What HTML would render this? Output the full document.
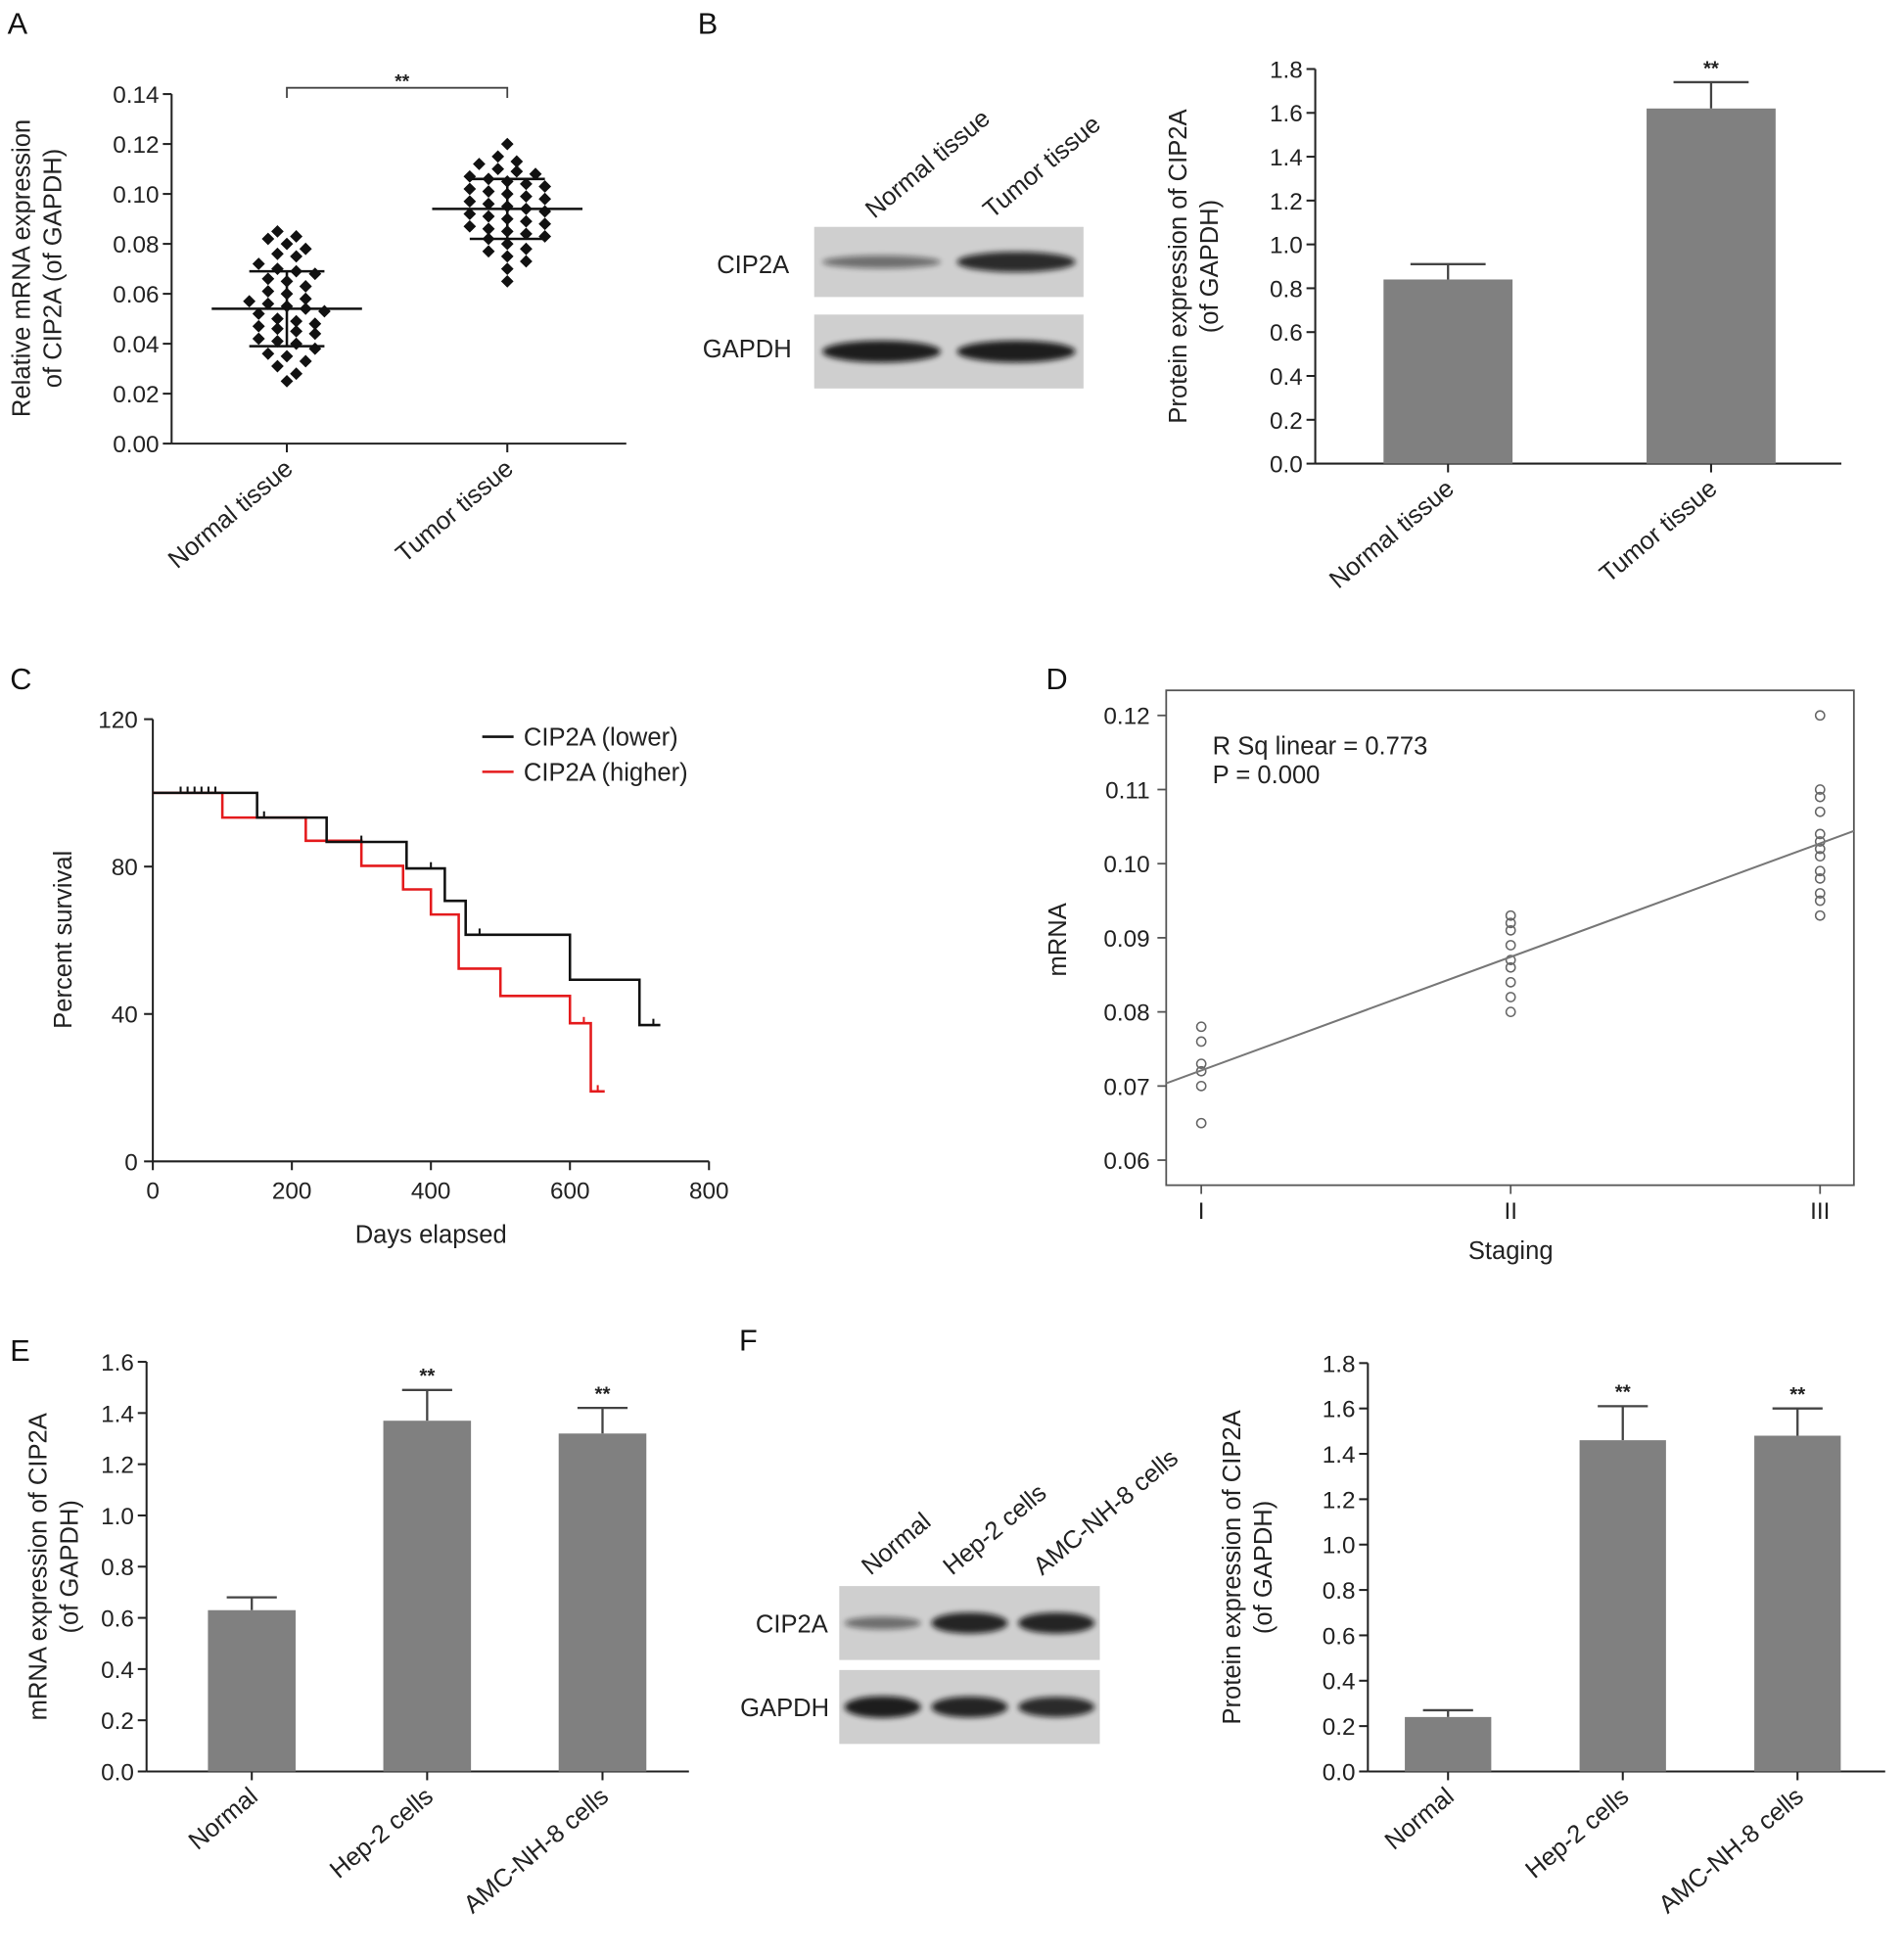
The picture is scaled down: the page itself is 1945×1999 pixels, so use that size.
<!DOCTYPE html>
<html><head><meta charset="utf-8"><style>
html,body{margin:0;padding:0;background:#fff;}
svg{display:block;font-family:"Liberation Sans",Arial,sans-serif;}
</style></head><body>
<svg id="fig" width="1945" height="1999" viewBox="0 0 1520 1562" xmlns="http://www.w3.org/2000/svg">
<defs><filter id="blur" x="-20%" y="-50%" width="140%" height="200%"><feGaussianBlur stdDeviation="2.2"/></filter></defs>
<g font-size="24" fill="#111">
<text x="6" y="27">A</text>
<text x="557" y="27">B</text>
<text x="8" y="550">C</text>
<text x="835" y="550">D</text>
<text x="8" y="1086">E</text>
<text x="590" y="1078">F</text>
</g>
</svg>
<script>
// ---- Data ----
const aCategories = ["Normal tissue","Tumor tissue"];
const aNormal = [0.085,0.083,0.082,0.080,0.078,0.076,0.075,0.072,0.070,0.069,0.068,0.066,0.065,0.063,0.061,0.060,0.058,0.057,0.056,0.055,0.054,0.053,0.052,0.050,0.049,0.048,0.047,0.046,0.045,0.044,0.042,0.041,0.040,0.038,0.036,0.035,0.033,0.031,0.028,0.025];
const aTumor = [0.120,0.115,0.113,0.112,0.110,0.109,0.108,0.107,0.106,0.105,0.104,0.103,0.102,0.101,0.100,0.099,0.098,0.097,0.096,0.095,0.094,0.093,0.092,0.091,0.090,0.089,0.088,0.087,0.086,0.085,0.084,0.083,0.082,0.080,0.078,0.077,0.075,0.073,0.070,0.065];
const aMeans = [0.054,0.094];
const aSD = [0.015,0.012];
const aTicks = [0,0.02,0.04,0.06,0.08,0.10,0.12,0.14];

const bCategories = ["Normal tissue","Tumor tissue"];
const bValues = [0.84,1.62];
const bErrors = [0.07,0.12];
const bTicks = [0,0.2,0.4,0.6,0.8,1.0,1.2,1.4,1.6,1.8];
const bSig = ["","**"];

const cLowerTimes = [0,150,250,365,420,450,600,700,730];
const cLowerSurv = [100,93.3,86.7,79.5,70.7,61.5,49.3,37,37];
const cLowerCensor = [40,50,60,70,80,90,160,300,400,470,720];
const cHigherTimes = [0,100,220,300,360,400,440,500,600,630,650];
const cHigherSurv = [100,93.3,87,80.2,73.8,67,52.3,44.9,37.5,19,19];
const cHigherCensor = [620,640];
const cXTicks = [0,200,400,600,800];
const cYTicks = [0,40,80,120];

const dStages = ["I","II","III"];
const dStage1 = [0.078,0.076,0.073,0.072,0.070,0.065];
const dStage2 = [0.093,0.092,0.091,0.089,0.087,0.086,0.084,0.082,0.080];
const dStage3 = [0.120,0.110,0.109,0.107,0.104,0.103,0.102,0.101,0.099,0.098,0.096,0.095,0.093];
const dTicks = [0.06,0.07,0.08,0.09,0.10,0.11,0.12];

const eCategories = ["Normal","Hep-2 cells","AMC-NH-8 cells"];
const eValues = [0.63,1.37,1.32];
const eErrors = [0.05,0.12,0.10];
const eTicks = [0,0.2,0.4,0.6,0.8,1.0,1.2,1.4,1.6];
const eSig = ["","**","**"];

const fCategories = ["Normal","Hep-2 cells","AMC-NH-8 cells"];
const fValues = [0.24,1.46,1.48];
const fErrors = [0.03,0.15,0.12];
const fTicks = [0,0.2,0.4,0.6,0.8,1.0,1.2,1.4,1.6,1.8];
const fSig = ["","**","**"];

const svg = document.getElementById('fig');
const NS = "http://www.w3.org/2000/svg";
function mk(tag, attrs, parent){
  const el = document.createElementNS(NS, tag);
  for (const k in attrs) el.setAttribute(k, attrs[k]);
  (parent||svg).appendChild(el);
  return el;
}
function txt(s, attrs, parent){ const t = mk('text', attrs, parent); t.textContent = s; return t; }
function lin(d0,d1,r0,r1){ return v => r0 + (v-d0)/(d1-d0)*(r1-r0); }

function yAxis(g, x, y, ticks, dec){
  const ax = mk('line',{x1:x,y1:y(ticks[ticks.length-1]),x2:x,y2:y(ticks[0]),stroke:'#222','stroke-width':1.6},g);
  
  
  ticks.forEach(t=>{
    const tk = mk('line',{x1:x-7,y1:y(t),x2:x,y2:y(t),stroke:'#222','stroke-width':1.6},g);
    
    
    const lb = txt(t.toFixed(dec),{x:x-10,y:y(t)+7,'text-anchor':'end','font-size':19,fill:'#222'},g);
    
    
  });
}
function xCatLabels(g, xs, cats, y0){
  cats.forEach((c,i)=>{
    const tk = mk('line',{x1:xs[i],y1:y0,x2:xs[i],y2:y0+7,stroke:'#222','stroke-width':1.6},g);
    
    
    const lb = txt(c,{x:xs[i]+6,y:y0+22,'text-anchor':'end','font-size':20,fill:'#222',transform:`rotate(-40 ${xs[i]+6} ${y0+22})`},g);
    
    
  });
}
function yTitle(g, lines, cx, cy){
  lines.forEach((l,i)=>{
    const t = txt(l,{x:cx+i*25,y:cy,'text-anchor':'middle','font-size':20,fill:'#222',transform:`rotate(-90 ${cx+i*25} ${cy})`},g);
    
    
  });
}
function barChart(name, cfg){
  const g = mk('g',{});
  
  
  const y = lin(0, cfg.ticks[cfg.ticks.length-1], cfg.y0, cfg.yTop);
  yAxis(g, cfg.x0, y, cfg.ticks, 1);
  const xa = mk('line',{x1:cfg.x0,y1:cfg.y0,x2:cfg.x1,y2:cfg.y0,stroke:'#222','stroke-width':1.6},g);
  
  
  const step = cfg.step;
  const xs = cfg.cats.map((c,i)=>cfg.x0+step*(i+0.5)+cfg.shift);
  cfg.values.forEach((v,i)=>{
    const top = y(v+cfg.errors[i]);
    const e1 = mk('line',{x1:xs[i],y1:y(v),x2:xs[i],y2:top,stroke:'#444','stroke-width':1.8},g);
    
    
    const e2 = mk('line',{x1:xs[i]-cfg.cap,y1:top,x2:xs[i]+cfg.cap,y2:top,stroke:'#444','stroke-width':1.8},g);
    
    
    const b = mk('rect',{x:xs[i]-cfg.bw/2,y:y(v),width:cfg.bw,height:cfg.y0-y(v),fill:'#808080'},g);
    
    
    if (cfg.sig[i]){
      const s = txt(cfg.sig[i],{x:xs[i],y:top-6,'text-anchor':'middle','font-size':16,'font-weight':'bold',fill:'#222'},g);
      
      
    }
  });
  xCatLabels(g, xs, cfg.cats, cfg.y0);
  yTitle(g, cfg.title, cfg.titleX, (cfg.y0+cfg.yTop)/2);
}
function blot(name, x, y, w, h, intens, lanes){
  const g = mk('g',{});
  
  
  const r = mk('rect',{x:x,y:y,width:w,height:h,fill:'#cfcfcf'},g);
  
  
  const lw = w/lanes;
  intens.forEach((v,i)=>{
    const e = mk('ellipse',{cx:x+lw*(i+0.5),cy:y+h/2,rx:lw*0.44,ry:3+6*v,fill:'#111',opacity:0.25+0.7*v,filter:'url(#blur)'},g);
    
    
  });
}

// ---- Panel A ----
(function(){
  const g = mk('g',{});
  
  
  const y = lin(0,0.14,354,75);
  yAxis(g,137,y,aTicks,2);
  const xa = mk('line',{x1:137,y1:354,x2:500,y2:354,stroke:'#222','stroke-width':1.6},g);
  
  
  const xs=[229,405];
  [aNormal,aTumor].forEach((arr,ci)=>{
    const bins={};
    arr.forEach(v=>{const k=Math.round(v/0.005); (bins[k]=bins[k]||[]).push(v);});
    Object.values(bins).forEach(bv=>{
      bv.forEach((v,j)=>{
        const off=(j-(bv.length-1)/2)*15;
        const cx=xs[ci]+off, cy=y(v);
        const p = mk('path',{d:`M${cx} ${cy-5}L${cx+5} ${cy}L${cx} ${cy+5}L${cx-5} ${cy}Z`,fill:'#111'},g);
        
        
      });
    });
    const m=y(aMeans[ci]), hi=y(aMeans[ci]+aSD[ci]), lo=y(aMeans[ci]-aSD[ci]);
    const ml = mk('line',{x1:xs[ci]-60,y1:m,x2:xs[ci]+60,y2:m,stroke:'#111','stroke-width':2},g);
    
    
    const sl = mk('path',{d:`M${xs[ci]} ${hi}V${lo}M${xs[ci]-30} ${hi}H${xs[ci]+30}M${xs[ci]-30} ${lo}H${xs[ci]+30}`,stroke:'#111','stroke-width':2,fill:'none'},g);
    
    
  });
  const br = mk('path',{d:'M229 78V70H405V78',stroke:'#444','stroke-width':1.4,fill:'none'},g);
  
  
  const st = txt('**',{x:321,y:70,'text-anchor':'middle','font-size':15,'font-weight':'bold',fill:'#222'},g);
  
  
  xCatLabels(g,xs,aCategories,354);
  yTitle(g,['Relative mRNA expression','of CIP2A (of GAPDH)'],24,214);
})();

// ---- Panel B ----
(function(){
  blot('blot-b-cip2a',650,181,215,56,[0.35,0.85],2);
  blot('blot-b-gapdh',650,251,215,59,[0.95,0.95],2);
  const g = mk('g',{});
  
  
  const l1 = txt('CIP2A',{x:630,y:218,'text-anchor':'end','font-size':20,fill:'#222'},g);
  
  
  const l2 = txt('GAPDH',{x:632,y:285,'text-anchor':'end','font-size':20,fill:'#222'},g);
  
  
  [['Normal tissue',698],['Tumor tissue',792]].forEach(([s,x])=>{
    const t = txt(s,{x:x,y:175,'font-size':20,fill:'#222',transform:`rotate(-40 ${x} 175)`},g);
    
    
  });
  barChart('panel-b-bars',{cats:bCategories,values:bValues,errors:bErrors,ticks:bTicks,sig:bSig,x0:1050,x1:1470,y0:370,yTop:55,step:210,shift:1,bw:103,cap:30,title:['Protein expression of CIP2A','(of GAPDH)'],titleX:947});
})();

// ---- Panel C ----
(function(){
  const g = mk('g',{});
  
  
  const x = lin(0,800,122,566), y = lin(0,120,927,574);
  const ya = mk('line',{x1:122,y1:574,x2:122,y2:927,stroke:'#222','stroke-width':1.6},g);
  
  
  const xa = mk('line',{x1:122,y1:927,x2:566,y2:927,stroke:'#222','stroke-width':1.6},g);
  
  
  cYTicks.forEach(t=>{
    const tk = mk('line',{x1:115,y1:y(t),x2:122,y2:y(t),stroke:'#222','stroke-width':1.6},g);
    
    
    const lb = txt(String(t),{x:110,y:y(t)+7,'text-anchor':'end','font-size':19,fill:'#222'},g);
    
    
  });
  cXTicks.forEach(t=>{
    const tk = mk('line',{x1:x(t),y1:927,x2:x(t),y2:934,stroke:'#222','stroke-width':1.6},g);
    
    
    const lb = txt(String(t),{x:x(t),y:957,'text-anchor':'middle','font-size':19,fill:'#222'},g);
    
    
  });
  function curve(times,surv,cens,color,name){
    let d=`M${x(times[0])} ${y(surv[0])}`;
    for(let i=1;i<times.length;i++){ d+=`H${x(times[i])}V${y(surv[i])}`; }
    const p = mk('path',{d:d,stroke:color,'stroke-width':2,fill:'none'},g);
    
    
    cens.forEach(c=>{
      let s=surv[0]; for(let i=0;i<times.length;i++){ if(times[i]<=c) s=surv[i]; }
      const m = mk('line',{x1:x(c),y1:y(s)-5,x2:x(c),y2:y(s),stroke:color,'stroke-width':1.6},g);
      
      
    });
  }
  curve(cHigherTimes,cHigherSurv,cHigherCensor,'#e41a1c','survival-curve-higher');
  curve(cLowerTimes,cLowerSurv,cLowerCensor,'#111','survival-curve-lower');
  [['CIP2A (lower)','#111',588],['CIP2A (higher)','#e41a1c',616]].forEach(([s,c,yy])=>{
    const l = mk('line',{x1:385,y1:yy,x2:410,y2:yy,stroke:c,'stroke-width':2},g);
    
    
    const t = txt(s,{x:418,y:yy+7,'font-size':20,fill:'#222'},g);
    
    
  });
  const xt = txt('Days elapsed',{x:344,y:992,'text-anchor':'middle','font-size':20,fill:'#222'},g);
  
  
  yTitle(g,['Percent survival'],57,750);
})();

// ---- Panel D ----
(function(){
  const g = mk('g',{});
  
  
  const y = lin(0.06,0.12,926,571), x = lin(1,3,959,1453);
  const box = mk('rect',{x:931,y:551,width:549,height:395,fill:'none',stroke:'#555','stroke-width':1.4},g);
  
  
  dTicks.forEach(t=>{
    const tk = mk('line',{x1:924,y1:y(t),x2:931,y2:y(t),stroke:'#555','stroke-width':1.4},g);
    
    
    const lb = txt(t.toFixed(2),{x:918,y:y(t)+7,'text-anchor':'end','font-size':19,fill:'#222'},g);
    
    
  });
  dStages.forEach((s,i)=>{
    const tk = mk('line',{x1:x(i+1),y1:946,x2:x(i+1),y2:953,stroke:'#555','stroke-width':1.4},g);
    
    
    const lb = txt(s,{x:x(i+1),y:973,'text-anchor':'middle','font-size':19,fill:'#222'},g);
    
    
  });
  const all=[];
  [dStage1,dStage2,dStage3].forEach((arr,si)=>arr.forEach(v=>{
    all.push([si+1,v]);
    const c = mk('circle',{cx:x(si+1),cy:y(v),r:3.6,fill:'none',stroke:'#666','stroke-width':1.2},g);
    
    
  }));
  const n=all.length, mx=all.reduce((a,p)=>a+p[0],0)/n, my=all.reduce((a,p)=>a+p[1],0)/n;
  let sxy=0,sxx=0; all.forEach(p=>{sxy+=(p[0]-mx)*(p[1]-my); sxx+=(p[0]-mx)**2;});
  const slope=sxy/sxx, icpt=my-slope*mx;
  const sx0=(931-959)/(1453-959)*2+1, sx1=(1480-959)/(1453-959)*2+1;
  const fl = mk('line',{x1:931,y1:y(icpt+slope*sx0),x2:1480,y2:y(icpt+slope*sx1),stroke:'#777','stroke-width':1.6},g);
  
  
  const r1 = txt('R Sq linear = 0.773',{x:968,y:602,'font-size':20,fill:'#222'},g);
  
  
  const r2 = txt('P = 0.000',{x:968,y:625,'font-size':20,fill:'#222'},g);
  
  
  const xt = txt('Staging',{x:1206,y:1005,'text-anchor':'middle','font-size':20,fill:'#222'},g);
  
  
  yTitle(g,['mRNA'],851,750);
})();

// ---- Panel E ----
barChart('panel-e-bars',{cats:eCategories,values:eValues,errors:eErrors,ticks:eTicks,sig:eSig,x0:117,x1:550,y0:1414,yTop:1087,step:140,shift:14,bw:70,cap:20,title:['mRNA expression of CIP2A','(of GAPDH)'],titleX:37});

// ---- Panel F ----
(function(){
  blot('blot-f-cip2a',670,1266,208,59,[0.35,0.9,0.9],3);
  blot('blot-f-gapdh',670,1333,208,59,[0.95,0.9,0.85],3);
  const g = mk('g',{});
  
  
  const l1 = txt('CIP2A',{x:661,y:1303,'text-anchor':'end','font-size':20,fill:'#222'},g);
  
  
  const l2 = txt('GAPDH',{x:662,y:1370,'text-anchor':'end','font-size':20,fill:'#222'},g);
  
  
  [['Normal',695],['Hep-2 cells',760],['AMC-NH-8 cells',832]].forEach(([s,x])=>{
    const t = txt(s,{x:x,y:1258,'font-size':20,fill:'#222',transform:`rotate(-40 ${x} 1258)`},g);
    
    
  });
  barChart('panel-f-bars',{cats:fCategories,values:fValues,errors:fErrors,ticks:fTicks,sig:fSig,x0:1092,x1:1505,y0:1414,yTop:1088,step:139.5,shift:-5.75,bw:69,cap:20,title:['Protein expression of CIP2A','(of GAPDH)'],titleX:990});
})();
</script>
</body></html>
